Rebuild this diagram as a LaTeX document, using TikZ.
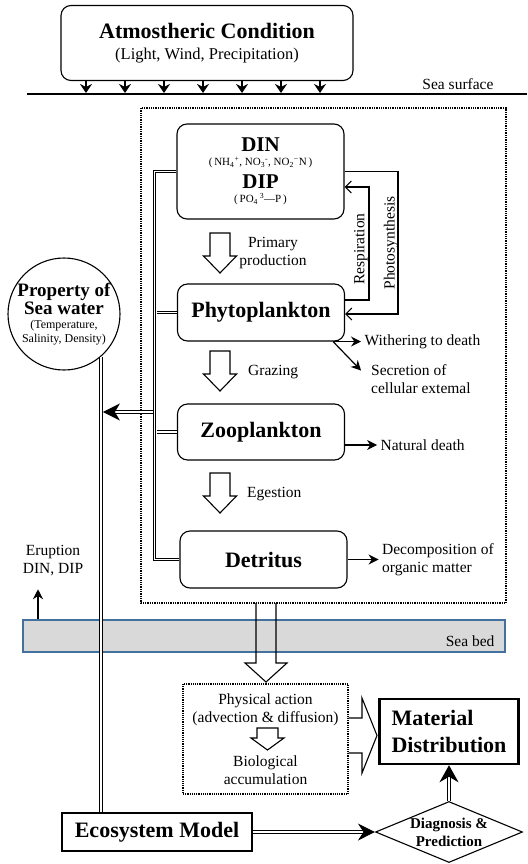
\documentclass[tikz,border=0pt]{standalone}
\usepackage{fontspec}
\setmainfont{Liberation Serif}
\usetikzlibrary{arrows.meta,shapes.geometric,calc}
\definecolor{bedfill}{HTML}{D9D9D9}
\definecolor{bedline}{HTML}{41719C}
\tikzset{
    roundbox/.style={draw, rounded corners=10pt, line width=1.1pt, align=center, minimum width=167pt, inner sep=0pt},
    plainbox/.style={draw, line width=1.1pt, align=center, inner sep=0pt},
    titlefont/.style={font=\fontsize{22}{25}\selectfont\bfseries},
    labelfont/.style={font=\fontsize{15.5}{18}\selectfont},
    sidelabel/.style={labelfont, anchor=west, align=left, inner sep=3pt},
    dbl/.style={double, double distance=1.9pt, line width=0.9pt},
    hollow/.style={line width=1.1pt, line join=miter},
    flow/.style={-{Stealth[length=10pt, width=10pt]}, line width=1.2pt},
    thinarrow/.style={-{Straight Barb[length=6pt, width=12pt]}, line width=1.1pt}
}

\begin{document}
\begin{tikzpicture}[x=1pt, y=-1pt]
\useasboundingbox (0,0) rectangle (527,864);

% atmosphere and sea surface
\node[roundbox, minimum width=292pt, minimum height=75pt, font=\fontsize{16.5}{19}\selectfont] (atm) at (207,43)
    {{\fontsize{22}{25}\selectfont\bfseries Atmostheric Condition}\\[2pt](Light, Wind, Precipitation)};
\draw[line width=2.5pt] (27,94) -- (527,94);
\node[labelfont, anchor=east] (surface) at (497,84) {Sea surface};
\foreach \x in {86,125,...,320}
    \draw[-{Stealth[length=9pt, width=12pt]}, line width=1.8pt] (\x,0 |- atm.south) -- (\x,93);

% water column
\draw[densely dotted, line width=1.3pt] (141,108) rectangle (506,603);
\node[roundbox, minimum height=95pt, font=\fontsize{11}{13}\selectfont] (din) at (260.5,171.5)
    {{\fontsize{21}{21}\selectfont\bfseries DIN}\\[1pt]
     (\,NH\textsubscript{4}\textsuperscript{+}, NO\textsubscript{3}\textsuperscript{-}, NO\textsubscript{2}\textsuperscript{−}N\,)\\[6pt]
     {\fontsize{21}{21}\selectfont\bfseries DIP}\\[1pt]
     (\,PO\textsubscript{4}\,\textsuperscript{3}—P\,)};
\node[roundbox, titlefont, minimum height=57pt] (phyto) at (261,312.5) {Phytoplankton};
\node[roundbox, titlefont, minimum height=56pt] (zoo) at (261,432) {Zooplankton};
\node[roundbox, titlefont, minimum height=57pt] (detritus) at (263.5,559.5) {Detritus};

% flows between the boxes
\foreach \y in {233,351,473}
    \draw[hollow] (210,\y) -- ++(20,0) -- ++(0,23) -- ++(6.5,0) -- ++(-16.5,17) -- ++(-16.5,-17) -- ++(6.5,0) -- cycle;
\node[labelfont, align=center] (primary) at (273,253) {Primary\\production};
\node[sidelabel] (grazing) at (245,372) {Grazing};
\node[sidelabel] (egestion) at (244,494) {Egestion};

\draw[thinarrow] ([yshift=12.5pt]phyto.east) -| (369,187) -- (din.east |- 0,187);
\draw[thinarrow] (din.east) -| (398,314) -- (phyto.east |- 0,314);
\node[labelfont, rotate=90] (resp) at (361,249) {Respiration};
\node[labelfont, rotate=90] (photo) at (391,243) {Photosynthesis};

\draw[flow] ([xshift=-12pt]phyto.south east) -- ++(28,0) node[sidelabel] (wither) {Withering to death};
\draw[flow] ([xshift=-12pt]phyto.south east) -- ++(28,29);
\node[sidelabel, inner sep=0pt] (secretion) at (371,379) {Secretion of\\cellular extemal};
\draw[flow] ([yshift=-13pt]zoo.east) -- ++(32,0) node[sidelabel] (natural) {Natural death};
\draw[flow] (detritus.east) -- ++(31,0) node[sidelabel] (decomp) {Decomposition of\\organic matter};

% property of sea water
\node[circle, draw, line width=1.1pt, minimum size=112pt, inner sep=0pt, align=center, font=\fontsize{12}{14}\selectfont] (seawater) at (64,314)
    {{\fontsize{19}{21}\selectfont\bfseries Property of}\\{\fontsize{19}{21}\selectfont\bfseries Sea water}\\(Temperature,\\Salinity, Density)};
\draw[dbl] (din.west) -- ++(-22,0) |- (detritus.west);
\draw[dbl] (157,0 |- phyto.west) -- (phyto.west);
\draw[dbl] (157,0 |- zoo.west) -- (zoo.west);

% sea bed
\node[draw=bedline, fill=bedfill, line width=1.5pt, minimum width=482pt, minimum height=32pt] (seabed) at (264,636) {};
\node[labelfont, anchor=east] (bedlabel) at (498,641) {Sea bed};
\node[labelfont, align=center] (eruption) at (53,561) {Eruption\\DIN, DIP};
\draw[flow] (seabed.north -| 38,0) -- ++(0,-30);

% model and results
\node[plainbox, titlefont, minimum width=190pt, minimum height=38pt] (eco) at (157,832) {Ecosystem Model};
\node[diamond, draw, line width=1.1pt, minimum width=147pt, minimum height=61pt, inner sep=0pt,
      label={[font=\fontsize{15}{18}\selectfont\bfseries, align=center]center:Diagnosis \&\\Prediction}] (diag) at (449,832) {};
\node[plainbox, line width=2.5pt, minimum width=139pt, minimum height=65pt, align=left, font=\fontsize{22}{27}\selectfont\bfseries] (matdist) at (449,731.5)
    {Material\\Distribution};
\node[draw, densely dotted, line width=1.2pt, minimum width=165pt, minimum height=110pt, align=center, labelfont] (phys) at (265.5,739)
    {Physical action\\(advection \& diffusion)\\[26pt]Biological\\accumulation};
\draw[hollow] (257,728) -- ++(21,0) -- ++(0,10) -- ++(6,0) -- ++(-16.5,12) -- ++(-16.5,-12) -- ++(6,0) -- cycle;
\draw[hollow] (256,603) -- (256,663) -- (245,663) -- (266,682) -- (287,663) -- (276,663) -- (276,603);
\draw[hollow] (phys.east |- 0,718) -- (362,718) -- (362,698) -- (377,735.5) -- (362,773) -- (362,753) -- (phys.east |- 0,753);

\coordinate (spineout) at (153.2,412);
\coordinate (join) at (seawater.-49 |- spineout);
\draw[dbl, -{Stealth[length=17pt, width=17pt, inset=5pt]}] (spineout) -- ([xshift=1.8pt]join);
\draw[dbl] (seawater.-49) -- (seawater.-49 |- eco.north);
\draw[dbl, -{Stealth[length=17pt, width=17pt]}] (eco.east) -- (diag.west);
\draw[dbl, -{Stealth[length=17pt, width=19pt]}] (diag.north) -- (matdist.south);
\end{tikzpicture}
\end{document}
